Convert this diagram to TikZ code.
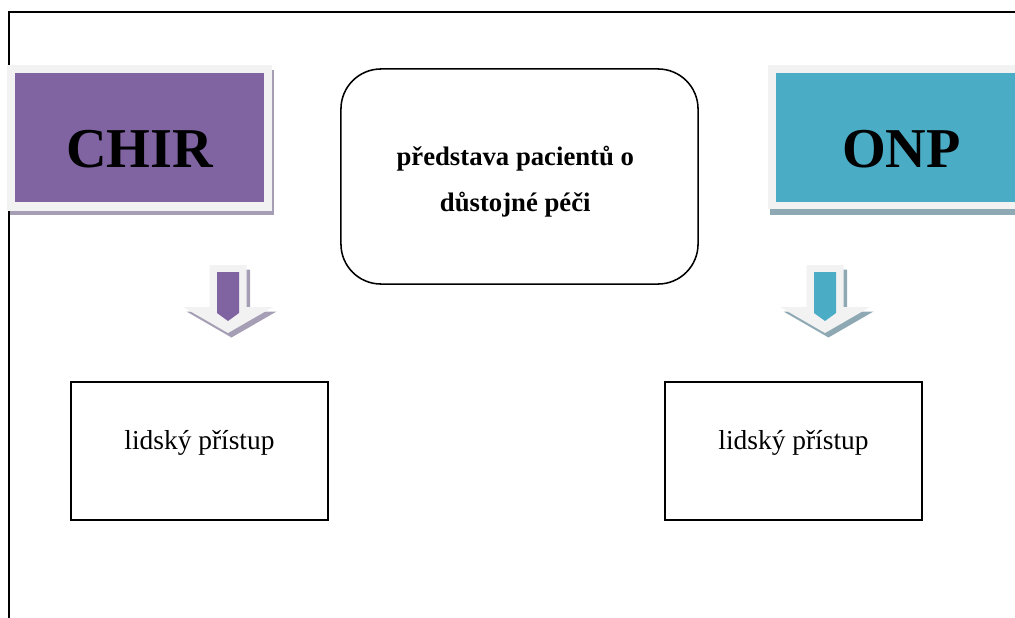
\documentclass[tikz,border=0pt]{standalone}
\usepackage{fontspec}
\setmainfont{Liberation Serif}
\usetikzlibrary{positioning}
\definecolor{chirfill}{HTML}{8064A2}
\definecolor{chirshade}{HTML}{A69EB5}
\definecolor{onpfill}{HTML}{4BACC6}
\definecolor{onpshade}{HTML}{8FA9B4}
\definecolor{paneback}{HTML}{F2F2F2}
\tikzset{
  headbox/.style={minimum width=6.225cm, minimum height=3.225cm, inner sep=0pt},
  headtext/.style={font=\fontsize{40}{44}\selectfont\bfseries},
  ideabox/.style={draw=black, line width=1.1pt, rounded corners=1cm, fill=white,
    minimum width=8.925cm, minimum height=5.375cm},
  ideatext/.style={align=center, font=\fontsize{19}{32.7}\selectfont\bfseries},
  itembox/.style={draw=black, line width=1.1pt, fill=white,
    minimum width=6.425cm, minimum height=3.45cm},
  itemtext/.style={font=\fontsize{19.5}{22}\selectfont}
}
\begin{document}
\begin{tikzpicture}[x=0.025cm, y=-0.025cm]
  \useasboundingbox (0,0) rectangle (1015,618);
  \clip (0,0) rectangle (1015,618);
  % frame
  \draw[line width=1pt] (9,618) -- (9,12) -- (1015,12);
  % CHIR heading
  \fill[chirshade] (10,70) rectangle (274,215);
  \fill[paneback] (7,65) rectangle (272,211);
  \node[headbox, fill=chirfill] (chir) at (139.5,137.5) {};
  \node[headtext] at ([yshift=-8.5pt]chir.center) {CHIR};
  % ONP heading
  \fill[onpshade] (770,70) rectangle (1030,215);
  \fill[paneback] (768,65) rectangle (1030,209);
  \node[headbox, fill=onpfill, minimum width=6.35cm] (onp) at (903,137.5) {};
  \node[headtext] at ([yshift=-8.5pt, xshift=-1pt]onp.center) {ONP};
  % middle box
  \node[ideabox] (idea) at (519.5,176.5) {};
  \node[ideatext] at ([yshift=-3.5pt, xshift=-3pt]idea.center) {představa pacientů o\\důstojné péči};
  % block arrows
  \foreach \cx/\col/\shd in {228/chirfill/chirshade, 825/onpfill/onpshade}{
    \fill[\shd, shift={(3.5,4.5)}] (\cx-18.5,265) -- (\cx+18.5,265) -- (\cx+18.5,307)
      -- (\cx+45,307) -- (\cx,333) -- (\cx-45,307) -- (\cx-18.5,307) -- cycle;
    \fill[paneback] (\cx-18.5,265) -- (\cx+18.5,265) -- (\cx+18.5,307)
      -- (\cx+45,307) -- (\cx,333) -- (\cx-45,307) -- (\cx-18.5,307) -- cycle;
    \fill[\col] (\cx-11,272) -- (\cx+11,272) -- (\cx+11,313) -- (\cx,321)
      -- (\cx-11,313) -- cycle;
  }
  % lower boxes
  \node[itembox] (chiritem) at (199.5,451) {};
  \node[itemtext] at ([yshift=6pt]chiritem.center) {lidský přístup};
  \node[itembox] (onpitem) at (793.5,451) {};
  \node[itemtext] at ([yshift=6pt]onpitem.center) {lidský přístup};
\end{tikzpicture}
\end{document}
